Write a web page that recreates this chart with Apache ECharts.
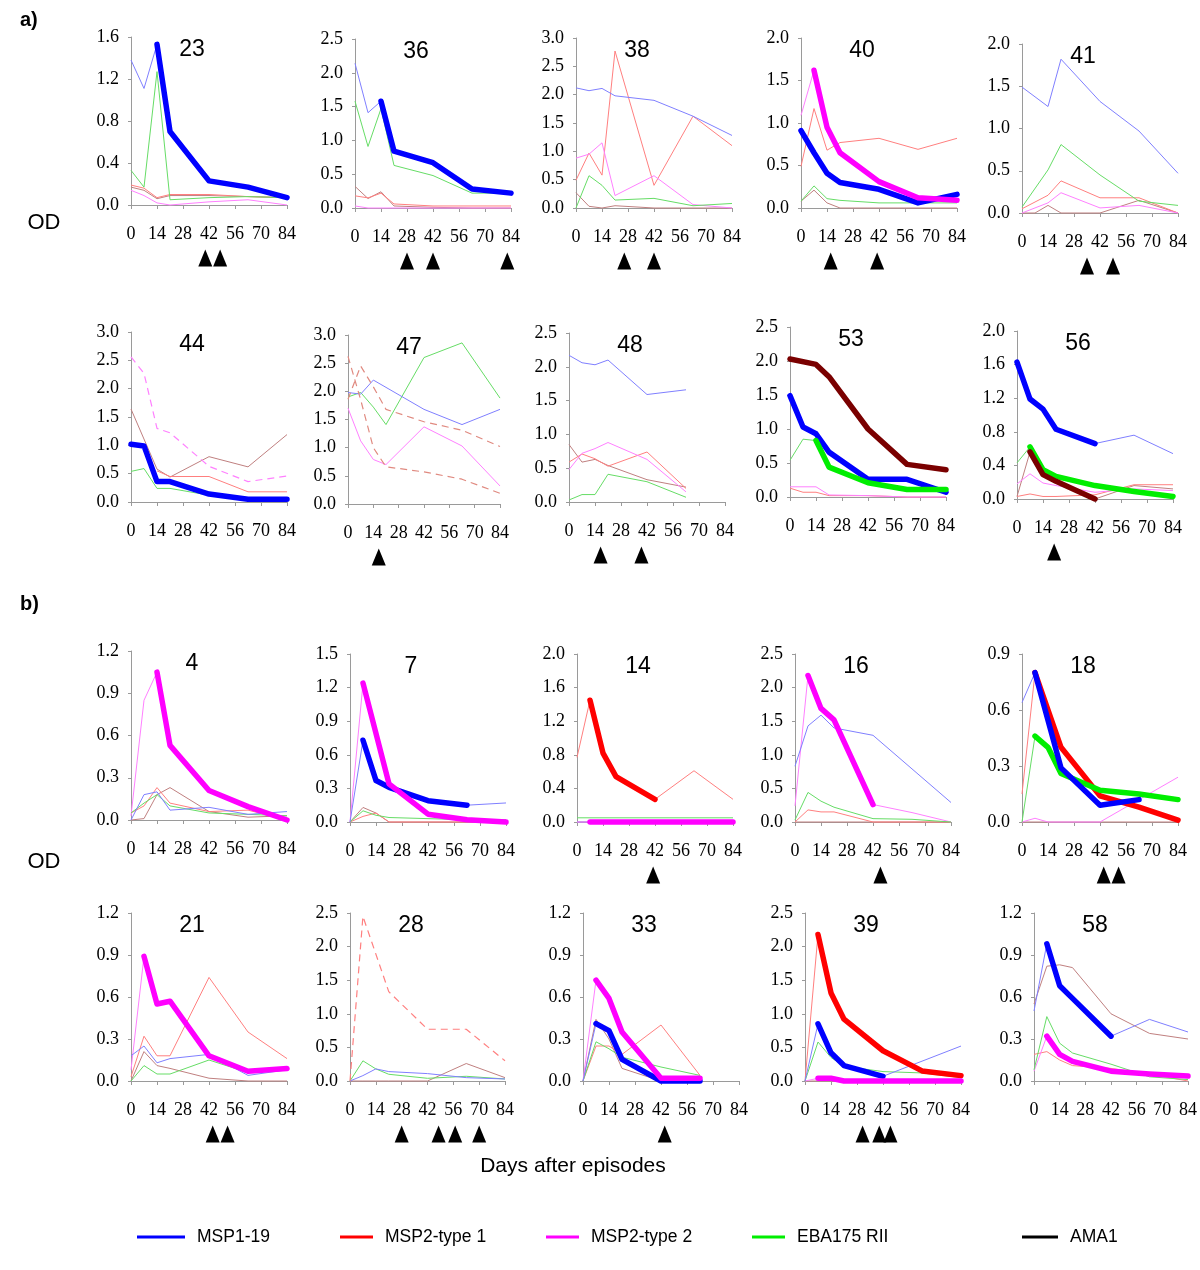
<!DOCTYPE html>
<html><head><meta charset="utf-8">
<script src="https://cdn.jsdelivr.net/npm/echarts@6/dist/echarts.min.js"></script>
<style>html,body{margin:0;padding:0;background:#fff}#c{width:1200px;height:1270px}</style>
</head><body><div id="c"></div>
<script>
// ---------------- DATA ----------------
const DAYS = [0, 7, 14, 21, 42, 63, 84];
const X_TICKS = [0, 14, 28, 42, 56, 70, 84];
const ANTIGENS = ['MSP1-19', 'MSP2-type 1', 'MSP2-type 2', 'EBA175 RII', 'AMA1'];

// panel 23
const p23_m1  = [1.38, 1.11, 1.53, 0.70, 0.23, 0.17, 0.07];
const p23_t1  = [0.19, 0.16, 0.07, 0.10, 0.10, 0.08, 0.07];
const p23_t2  = [0.14, 0.09, 0.02, 0.00, 0.03, 0.05, 0.00];
const p23_eba = [0.33, 0.17, 1.27, 0.05, 0.07, 0.08, 0.07];
const p23_ama = [0.17, 0.14, 0.06, 0.09, 0.09, 0.08, 0.07];
const p23_thick = [['m1', 14, 84]];
const p23_arrows = [40, 48];
// panel 36
const p36_m1  = [2.14, 1.41, 1.58, 0.84, 0.67, 0.28, 0.22];
const p36_t1  = [0.18, 0.15, 0.22, 0.06, 0.03, 0.03, 0.03];
const p36_t2  = [0.03, 0.00, 0.00, 0.00, 0.00, 0.00, 0.00];
const p36_eba = [1.58, 0.91, 1.47, 0.63, 0.48, 0.22, 0.22];
const p36_ama = [0.32, 0.14, 0.24, 0.03, 0.01, 0.00, 0.00];
const p36_thick = [['m1', 14, 84]];
const p36_arrows = [28, 42, 82];
// panel 38
const p38_m1  = [2.12, 2.07, 2.11, 1.98, 1.90, 1.62, 1.28];
const p38_t1  = [0.49, 0.97, 0.58, 2.77, 0.40, 1.62, 1.10];
const p38_t2  = [0.88, 0.95, 1.15, 0.22, 0.57, 0.06, 0.00];
const p38_eba = [0.00, 0.57, 0.40, 0.14, 0.17, 0.04, 0.08];
const p38_ama = [0.27, 0.03, 0.00, 0.04, 0.00, 0.00, 0.00];
const p38_thick = [];
const p38_arrows = [26, 42];
// panel 40
const p40_m1  = [0.91, 0.65, 0.41, 0.30, 0.22, 0.06, 0.16];
const p40_t1  = [0.49, 1.17, 0.68, 0.77, 0.82, 0.69, 0.82];
const p40_t2  = [1.09, 1.62, 0.95, 0.65, 0.31, 0.12, 0.09];
const p40_eba = [0.08, 0.26, 0.11, 0.09, 0.06, 0.06, 0.06];
const p40_ama = [0.08, 0.21, 0.06, 0.00, 0.00, 0.00, 0.00];
const p40_thick = [['m1', 0, 84], ['t2', 7, 84]];
const p40_arrows = [16, 41];
// panel 41
const p41_m1  = [1.49, null, 1.26, 1.82, 1.32, 0.97, 0.47];
const p41_t1  = [0.05, 0.13, 0.21, 0.38, 0.18, 0.18, 0.00];
const p41_t2  = [0.00, 0.06, 0.12, 0.24, 0.06, 0.09, 0.00];
const p41_eba = [0.07, null, 0.51, 0.81, 0.45, 0.14, 0.09];
const p41_ama = [0.00, 0.00, 0.09, 0.00, 0.00, 0.15, 0.00];
const p41_thick = [];
const p41_arrows = [35, 49];
// panel 44
const p44_m1  = [1.02, 0.99, 0.36, 0.36, 0.14, 0.05, 0.05];
const p44_t1  = [null, null, 0.55, 0.45, 0.45, 0.18, 0.18];
const p44_t2_dash = [2.56, 2.27, 1.30, 1.22, 0.63, 0.36, 0.46];
const p44_eba = [0.54, 0.59, 0.24, 0.24, 0.12, 0.05, 0.05];
const p44_ama = [1.64, null, 0.58, 0.44, 0.80, 0.62, 1.19];
const p44_thick = [['m1', 0, 84]];
const p44_arrows = [];
// panel 47
const p47_m1  = [1.98, 1.95, 2.20, 2.07, 1.68, 1.41, 1.68];
const p47_t2  = [1.70, 1.12, 0.79, 0.70, 1.37, 1.03, 0.32];
const p47_eba = [1.90, 1.98, 1.72, 1.41, 2.60, 2.86, 1.88];
const p47_dashA = [1.86, 2.45, 2.08, 1.68, 1.46, 1.31, 1.02];
const p47_dashB = [2.62, 1.85, 1.00, 0.66, 0.57, 0.44, 0.19];
const p47_thick = [];
const p47_arrows = [17];
// panel 48
const p48_m1  = [2.17, 2.06, 2.03, 2.10, 1.59, 1.66, null];
const p48_t1  = [0.59, 0.71, 0.64, 0.53, 0.74, 0.20, null];
const p48_t2  = [0.48, 0.72, 0.79, 0.88, 0.63, 0.15, null];
const p48_eba = [0.03, 0.11, 0.11, 0.41, 0.30, 0.07, null];
const p48_ama = [0.85, 0.59, 0.63, 0.54, 0.33, 0.22, null];
const p48_thick = [];
const p48_arrows = [17, 39];
// panel 53
const p53_m1  = [1.49, 1.03, 0.93, 0.66, 0.26, 0.26, 0.07];
const p53_t1  = [0.13, 0.07, 0.07, 0.02, 0.02, 0.00, 0.00];
const p53_t2  = [0.15, 0.15, 0.15, 0.03, 0.02, 0.00, 0.00];
const p53_eba = [0.54, 0.85, 0.83, 0.44, 0.21, 0.11, 0.11];
const p53_ama = [2.03, null, 1.95, 1.77, 1.00, 0.48, 0.40];
const p53_thick = [['ama', 0, 84], ['m1', 0, 84], ['eba', 14, 84]];
const p53_arrows = [];
// panel 56
const p56_m1  = [1.63, 1.19, 1.07, 0.83, 0.66, 0.76, 0.54];
const p56_t1  = [0.03, 0.06, 0.03, 0.03, 0.05, 0.17, 0.17];
const p56_t2  = [0.18, 0.30, 0.19, 0.16, 0.08, 0.12, 0.10];
const p56_eba = [0.43, 0.62, 0.35, 0.27, 0.16, 0.09, 0.03];
const p56_ama = [0.03, 0.56, 0.29, 0.21, 0.00, 0.16, 0.12];
const p56_thick = [['m1', 0, 42], ['eba', 7, 84], ['ama', 7, 42]];
const p56_arrows = [20];
// panel 4
const p4_m1  = [0.00, 0.18, 0.20, 0.07, 0.09, 0.04, 0.06];
const p4_t1  = [0.05, 0.10, 0.23, 0.12, 0.06, 0.07, 0.00];
const p4_t2  = [0.03, 0.85, 1.05, 0.53, 0.21, 0.095, 0.00];
const p4_eba = [0.05, 0.12, 0.18, 0.10, 0.05, 0.04, 0.03];
const p4_ama = [0.00, 0.01, 0.18, 0.23, 0.06, 0.02, 0.03];
const p4_thick = [['t2', 14, 84]];
const p4_arrows = [];
// panel 7
const p7_m1  = [0.00, 0.73, 0.37, 0.31, 0.19, 0.15, 0.17];
const p7_t1  = [0.00, 0.05, 0.08, 0.00, 0.00, 0.00, 0.00];
const p7_t2  = [0.00, 1.24, null, 0.34, 0.07, 0.02, 0.00];
const p7_eba = [0.00, 0.10, 0.06, 0.04, 0.03, 0.02, 0.02];
const p7_ama = [0.00, 0.13, 0.08, 0.00, 0.00, 0.00, 0.00];
const p7_thick = [['m1', 7, 63], ['t2', 7, 84]];
const p7_arrows = [];
// panel 14
const p14_m1  = [0, 0, 0, 0, 0, 0, 0];
const p14_t1  = [0.77, 1.45, 0.82, 0.54, 0.27, 0.61, 0.27];
const p14_t2  = [0, 0, 0, 0, 0, 0, 0];
const p14_eba = [0.05, 0.05, 0.05, 0.05, 0.05, 0.05, 0.05];
const p14_ama = [0, 0, 0, 0, 0, 0, 0];
const p14_thick = [['t1', 7, 42], ['t2', 7, 84]];
const p14_arrows = [41];
// panel 16
const p16_m1  = [0.83, 1.43, 1.59, 1.40, 1.29, null, 0.29];
const p16_t1  = [0.00, 0.18, 0.15, 0.15, 0.00, 0.00, 0.00];
const p16_t2  = [0.24, 2.18, 1.69, 1.52, 0.26, 0.14, 0.00];
const p16_eba = [0.03, 0.44, 0.31, 0.22, 0.05, 0.04, 0.00];
const p16_ama = [0, 0, 0, 0, 0, 0, 0];
const p16_thick = [['t2', 7, 42]];
const p16_arrows = [46];
// panel 18
const p18_m1  = [0.64, 0.80, null, 0.29, 0.09, 0.12, null];
const p18_t1  = [0.15, 0.80, null, 0.40, 0.14, 0.08, 0.01];
const p18_t2  = [0.00, 0.02, 0.00, 0.00, 0.00, 0.12, 0.24];
const p18_eba = [0.00, 0.46, 0.40, 0.26, 0.17, 0.15, 0.12];
const p18_ama = [0, 0, 0, 0, 0, 0, 0];
const p18_thick = [['t1', 7, 84], ['eba', 7, 84], ['m1', 7, 63]];
const p18_arrows = [44, 52];
// panel 21
const p21_m1  = [0.18, 0.25, 0.13, 0.16, 0.19, 0.04, 0.08];
const p21_t1  = [0.03, 0.32, 0.18, 0.18, 0.74, 0.35, 0.16];
const p21_t2  = [0.08, 0.89, 0.55, 0.57, 0.18, 0.07, 0.09];
const p21_eba = [0.00, 0.11, 0.05, 0.05, 0.15, 0.06, 0.08];
const p21_ama = [0.00, 0.21, 0.11, 0.09, 0.02, 0.00, 0.00];
const p21_thick = [['t2', 7, 84]];
const p21_arrows = [44, 52];
// panel 28
const p28_m1  = [0.00, 0.08, 0.18, 0.14, 0.11, 0.05, 0.03];
const p28_t1_dash = [0.00, 2.45, null, 1.33, 0.77, 0.77, 0.30];
const p28_eba = [0.00, 0.30, 0.18, 0.10, 0.04, 0.07, 0.03];
const p28_ama = [0.00, 0.00, 0.00, 0.00, 0.00, 0.26, 0.05];
const p28_thick = [];
const p28_arrows = [28, 48, 57, 70];
// panel 33
const p33_m1  = [0.00, 0.41, 0.36, 0.155, 0.00, 0.00, null];
const p33_t1  = [0.00, 0.25, 0.25, 0.19, 0.40, 0.04, null];
const p33_t2  = [0.00, 0.72, 0.59, 0.35, 0.02, 0.02, null];
const p33_eba = [0.00, 0.28, 0.23, 0.17, 0.10, 0.04, null];
const p33_ama = [0.00, 0.44, 0.30, 0.09, 0.00, 0.00, null];
const p33_thick = [['m1', 7, 63], ['t2', 7, 63]];
const p33_arrows = [44];
// panel 39
const p39_m1  = [0.00, 0.85, 0.42, 0.23, 0.07, null, 0.52];
const p39_t1  = [0.00, 2.18, 1.31, 0.92, 0.45, 0.15, 0.08];
const p39_t2  = [0.00, 0.04, 0.04, 0.00, 0.00, 0.00, 0.00];
const p39_eba = [0.00, 0.58, 0.35, 0.22, 0.14, 0.12, 0.05];
const p39_ama = [0, 0, 0, 0, 0, 0, 0];
const p39_thick = [['m1', 7, 42], ['t1', 7, 84], ['t2', 7, 84]];
const p39_arrows = [31, 40, 46];
// panel 58
const p58_m1  = [0.50, 0.98, 0.68, 0.59, 0.32, 0.44, 0.35];
const p58_t1  = [0.19, 0.21, 0.15, 0.11, 0.09, 0.05, 0.00];
const p58_t2  = [0.07, 0.32, 0.19, 0.14, 0.07, 0.05, 0.035];
const p58_eba = [0.08, 0.46, 0.27, 0.20, 0.12, 0.03, 0.01];
const p58_ama = [0.55, 0.82, 0.83, 0.81, 0.48, 0.34, 0.30];
const p58_thick = [['m1', 7, 42], ['t2', 7, 84]];
const p58_arrows = [];

// ---------------- PANELS (built from the arrays above) ----------------
const PANELS = [
  {label: '23', ymax: 1.6, step: 0.4, lines: {ama: p23_ama, t1: p23_t1, t2: p23_t2, eba: p23_eba, m1: p23_m1}, dashed: [], thick: p23_thick, arrows: p23_arrows},
  {label: '36', ymax: 2.5, step: 0.5, lines: {ama: p36_ama, t1: p36_t1, t2: p36_t2, eba: p36_eba, m1: p36_m1}, dashed: [], thick: p36_thick, arrows: p36_arrows},
  {label: '38', ymax: 3.0, step: 0.5, lines: {ama: p38_ama, t1: p38_t1, t2: p38_t2, eba: p38_eba, m1: p38_m1}, dashed: [], thick: p38_thick, arrows: p38_arrows},
  {label: '40', ymax: 2.0, step: 0.5, lines: {ama: p40_ama, t1: p40_t1, t2: p40_t2, eba: p40_eba, m1: p40_m1}, dashed: [], thick: p40_thick, arrows: p40_arrows},
  {label: '41', ymax: 2.0, step: 0.5, lines: {ama: p41_ama, t1: p41_t1, t2: p41_t2, eba: p41_eba, m1: p41_m1}, dashed: [], thick: p41_thick, arrows: p41_arrows},
  {label: '44', ymax: 3.0, step: 0.5, lines: {ama: p44_ama, t1: p44_t1, eba: p44_eba, m1: p44_m1}, dashed: [['t2', p44_t2_dash]], thick: p44_thick, arrows: p44_arrows},
  {label: '47', ymax: 3.0, step: 0.5, lines: {t2: p47_t2, eba: p47_eba, m1: p47_m1}, dashed: [['salmon', p47_dashA], ['salmon', p47_dashB]], thick: p47_thick, arrows: p47_arrows},
  {label: '48', ymax: 2.5, step: 0.5, lines: {ama: p48_ama, t1: p48_t1, t2: p48_t2, eba: p48_eba, m1: p48_m1}, dashed: [], thick: p48_thick, arrows: p48_arrows},
  {label: '53', ymax: 2.5, step: 0.5, lines: {ama: p53_ama, t1: p53_t1, t2: p53_t2, eba: p53_eba, m1: p53_m1}, dashed: [], thick: p53_thick, arrows: p53_arrows},
  {label: '56', ymax: 2.0, step: 0.4, lines: {ama: p56_ama, t1: p56_t1, t2: p56_t2, eba: p56_eba, m1: p56_m1}, dashed: [], thick: p56_thick, arrows: p56_arrows},
  {label: '4',  ymax: 1.2, step: 0.3, lines: {ama: p4_ama, t1: p4_t1, t2: p4_t2, eba: p4_eba, m1: p4_m1}, dashed: [], thick: p4_thick, arrows: p4_arrows},
  {label: '7',  ymax: 1.5, step: 0.3, lines: {ama: p7_ama, t1: p7_t1, t2: p7_t2, eba: p7_eba, m1: p7_m1}, dashed: [], thick: p7_thick, arrows: p7_arrows},
  {label: '14', ymax: 2.0, step: 0.4, lines: {ama: p14_ama, m1: p14_m1, t2: p14_t2, eba: p14_eba, t1: p14_t1}, dashed: [], thick: p14_thick, arrows: p14_arrows},
  {label: '16', ymax: 2.5, step: 0.5, lines: {ama: p16_ama, t1: p16_t1, t2: p16_t2, eba: p16_eba, m1: p16_m1}, dashed: [], thick: p16_thick, arrows: p16_arrows},
  {label: '18', ymax: 0.9, step: 0.3, lines: {ama: p18_ama, t1: p18_t1, t2: p18_t2, eba: p18_eba, m1: p18_m1}, dashed: [], thick: p18_thick, arrows: p18_arrows},
  {label: '21', ymax: 1.2, step: 0.3, lines: {ama: p21_ama, t1: p21_t1, t2: p21_t2, eba: p21_eba, m1: p21_m1}, dashed: [], thick: p21_thick, arrows: p21_arrows},
  {label: '28', ymax: 2.5, step: 0.5, lines: {ama: p28_ama, eba: p28_eba, m1: p28_m1}, dashed: [['t1', p28_t1_dash]], thick: p28_thick, arrows: p28_arrows},
  {label: '33', ymax: 1.2, step: 0.3, lines: {ama: p33_ama, t1: p33_t1, t2: p33_t2, eba: p33_eba, m1: p33_m1}, dashed: [], thick: p33_thick, arrows: p33_arrows},
  {label: '39', ymax: 2.5, step: 0.5, lines: {ama: p39_ama, t1: p39_t1, t2: p39_t2, eba: p39_eba, m1: p39_m1}, dashed: [], thick: p39_thick, arrows: p39_arrows},
  {label: '58', ymax: 1.2, step: 0.3, lines: {ama: p58_ama, t1: p58_t1, t2: p58_t2, eba: p58_eba, m1: p58_m1}, dashed: [], thick: p58_thick, arrows: p58_arrows}
];

// ---------------- LAYOUT & STYLE ----------------
// [grid left, grid top, grid bottom, grid width]
const LAYOUT = [
  [131, 37, 205, 156], [355, 39, 208, 156], [576, 38, 208, 156], [801, 38, 208, 156], [1022, 44, 213, 156],
  [131, 332, 502, 156], [348, 335, 504, 152], [569, 333, 502, 156], [790, 327, 497, 156], [1017, 331, 499, 156],
  [131, 651, 820, 156], [350, 654, 822, 156], [577, 654, 822, 156], [795, 654, 822, 156], [1022, 654, 822, 156],
  [131, 913, 1081, 156], [350, 913, 1081, 155], [583, 913, 1081, 156], [805, 913, 1081, 156], [1034, 913, 1081, 156]
];
const STYLE = {
  m1:  {name: 'MSP1-19',     thick: '#0000ff', thin: '#7f7fff'},
  t1:  {name: 'MSP2-type 1', thick: '#ff0000', thin: '#ff7f7f'},
  t2:  {name: 'MSP2-type 2', thick: '#ff00ff', thin: '#ff80ff'},
  eba: {name: 'EBA175 RII',  thick: '#00ee00', thin: '#66dd66'},
  ama: {name: 'AMA1',        thick: '#7a0000', thin: '#c08080'},
  salmon: {name: 'other',    thick: '#e08070', thin: '#e08a80'}
};
const SERIF = '"Liberation Serif", "Times New Roman", serif';
const SANS = '"Liberation Sans", Arial, sans-serif';

const grids = [], xAxes = [], yAxes = [], series = [], graphics = [];

PANELS.forEach((p, i) => {
  const [left, top, bottom, width] = LAYOUT[i];
  const gi = grids.length;
  grids.push({left, top, width, height: bottom - top});
  xAxes.push({
    gridIndex: gi, type: 'value', min: 0, max: 84, interval: 14,
    axisLine: {show: true, onZero: false, lineStyle: {color: '#9a9a9a', width: 1}},
    axisTick: {show: true, length: 4, lineStyle: {color: '#9a9a9a'}},
    axisLabel: {margin: 20, color: '#000', fontFamily: SERIF, fontSize: 18,
      formatter: v => (X_TICKS.indexOf(v) >= 0 ? String(v) : '')},
    splitLine: {show: false}
  });
  yAxes.push({
    gridIndex: gi, type: 'value', min: 0, max: p.ymax, interval: p.step,
    axisLine: {show: true, lineStyle: {color: '#9a9a9a', width: 1}},
    axisTick: {show: true, length: 3, lineStyle: {color: '#9a9a9a'}},
    axisLabel: {margin: 12, color: '#000', fontFamily: SERIF, fontSize: 18,
      formatter: v => v.toFixed(1)},
    splitLine: {show: false}
  });
  const toData = (arr, from, to) => DAYS.map((d, k) =>
    (arr[k] === null || arr[k] === undefined || d < from || d > to) ? [d, null] : [d, arr[k]]);
  // thin lines
  Object.keys(p.lines).forEach(key => {
    series.push({
      type: 'line', name: STYLE[key].name + ' (all)', xAxisIndex: gi, yAxisIndex: gi,
      data: toData(p.lines[key], 0, 84), showSymbol: false, symbol: 'none', connectNulls: true,
      clip: false, z: 2, silent: true,
      lineStyle: {color: STYLE[key].thin, width: 1}
    });
  });
  // dashed lines
  p.dashed.forEach(([key, arr]) => {
    series.push({
      type: 'line', name: STYLE[key].name + ' (dashed)', xAxisIndex: gi, yAxisIndex: gi,
      data: toData(arr, 0, 84), showSymbol: false, symbol: 'none', connectNulls: true,
      clip: false, z: 2, silent: true,
      lineStyle: {color: STYLE[key].thin, width: 1.2, type: [7, 5]}
    });
  });
  // thick decay segments
  p.thick.forEach(([key, from, to]) => {
    const src = p.lines[key];
    series.push({
      type: 'line', name: STYLE[key].name, xAxisIndex: gi, yAxisIndex: gi,
      color: STYLE[key].thick,
      data: toData(src, from, to).filter(pt => pt[0] >= from && pt[0] <= to),
      showSymbol: false, symbol: 'none', connectNulls: true, clip: false, z: 4, silent: true,
      lineStyle: {color: STYLE[key].thick, width: 5.5, cap: 'round', join: 'round'}
    });
  });
  // episode arrows (separate strip grid below the axis)
  if (p.arrows.length) {
    const ag = grids.length;
    grids.push({left, top: bottom + 44, width, height: 18});
    xAxes.push({gridIndex: ag, type: 'value', min: 0, max: 84, show: false});
    yAxes.push({gridIndex: ag, type: 'value', min: -1, max: 1, show: false});
    series.push({
      type: 'scatter', name: 'episode', xAxisIndex: ag, yAxisIndex: ag,
      data: p.arrows.map(d => [d, 0]), symbol: 'triangle', symbolSize: [14, 17],
      itemStyle: {color: '#000', opacity: 1}, silent: true, clip: false, z: 5
    });
  }
  // panel number
  graphics.push({type: 'text', x: left + 61, y: top + 13, silent: true,
    style: {text: p.label, align: 'center', verticalAlign: 'middle', fill: '#000',
      font: '23px "Liberation Sans Narrow", "Liberation Sans", Arial, sans-serif'}});
});

// static labels
graphics.push(
  {type: 'text', x: 20, y: 20, style: {text: 'a)', align: 'left', verticalAlign: 'middle', fill: '#000', font: 'bold 20px ' + SANS}},
  {type: 'text', x: 20, y: 604, style: {text: 'b)', align: 'left', verticalAlign: 'middle', fill: '#000', font: 'bold 20px ' + SANS}},
  {type: 'text', x: 44, y: 223, style: {text: 'OD', align: 'center', verticalAlign: 'middle', fill: '#000', font: '22px ' + SANS}},
  {type: 'text', x: 44, y: 862, style: {text: 'OD', align: 'center', verticalAlign: 'middle', fill: '#000', font: '22px ' + SANS}},
  {type: 'text', x: 573, y: 1166, style: {text: 'Days after episodes', align: 'center', verticalAlign: 'middle', fill: '#000', font: '21px ' + SANS}}
);

// legend: one per antigen, positioned like the reference
const LEGEND_POS = [[137, 48], [340, 33], [546, 33], [752, 33], [1022, 36]];
const LEGEND_KEYS = ['m1', 't1', 't2', 'eba', 'ama'];
const legends = LEGEND_KEYS.map((key, k) => ({
  left: LEGEND_POS[k][0], top: 1228, padding: 0, selectedMode: false,
  icon: 'rect', itemWidth: LEGEND_POS[k][1], itemHeight: 3, itemGap: 12,
  itemStyle: {borderWidth: 0},
  textStyle: {fontFamily: SANS, fontSize: 17.5, color: '#000', padding: [0, 0, 0, 7]},
  data: [{name: ANTIGENS[k], itemStyle: {color: key === 'ama' ? '#000' : STYLE[key].thick, borderWidth: 0}}]
}));

const chart = echarts.init(document.getElementById('c'), null, {renderer: 'canvas'});
chart.setOption({
  animation: false,
  backgroundColor: '#fff',
  grid: grids, xAxis: xAxes, yAxis: yAxes, series,
  legend: legends,
  graphic: graphics
});
</script></body></html>
